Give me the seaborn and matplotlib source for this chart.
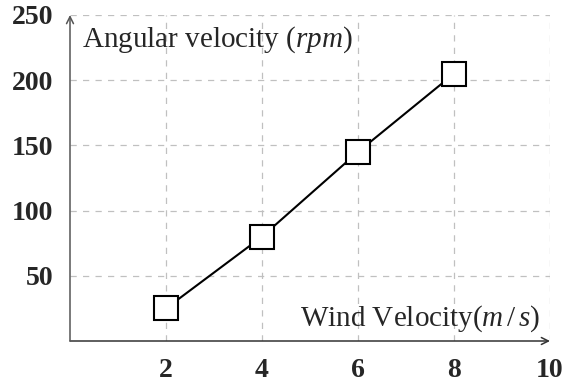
import matplotlib
matplotlib.use("Agg")
import matplotlib.pyplot as plt
import seaborn as sns
import pandas as pd

# data
wind = [2, 4, 6, 8]
rpm = [25, 80, 145, 205]
xticks = [2, 4, 6, 8, 10]
yticks = [50, 100, 150, 200, 250]

df = pd.DataFrame({"wind": wind, "rpm": rpm})

sns.set_style("white")
plt.rcParams["font.family"] = ["Liberation Serif", "DejaVu Serif"]
plt.rcParams["mathtext.fontset"] = "custom"
plt.rcParams["mathtext.it"] = "Liberation Serif:italic"
plt.rcParams["mathtext.rm"] = "Liberation Serif"

fig = plt.figure(figsize=(5.65, 3.86), dpi=100)
ax = fig.add_axes([70 / 565, 1 - 341 / 386, 480 / 565, 326 / 386])

sns.lineplot(data=df, x="wind", y="rpm", ax=ax, color="black", lw=1.5,
             marker="s", markersize=17, markerfacecolor="white",
             markeredgecolor="black", markeredgewidth=1.5, zorder=5)

ax.set_xlim(0, 10)
ax.set_ylim(0, 250)
ax.set_xticks(xticks)
ax.set_yticks(yticks)
ax.set_xticklabels([str(t) for t in xticks], fontweight="bold", fontsize=20)
ax.set_yticklabels([str(t) for t in yticks], fontweight="bold", fontsize=20)
ax.tick_params(direction="inout", length=6, width=0.8, color="#555555", pad=9)
ax.set_xlabel("")
ax.set_ylabel("")

ax.grid(True, color="#c0c0c0", linestyle=(0, (5, 5)), lw=0.9)
for s in ax.spines.values():
    s.set_visible(False)

# axis lines with arrows
ax.annotate("", xy=(10, 0), xytext=(0, 0), annotation_clip=False,
            arrowprops=dict(arrowstyle="->,head_length=0.5,head_width=0.25",
                            color="#333333", lw=1.1, shrinkA=0, shrinkB=0))
ax.annotate("", xy=(0, 250), xytext=(0, 0), annotation_clip=False,
            arrowprops=dict(arrowstyle="->,head_length=0.5,head_width=0.25",
                            color="#555555", lw=1.1, shrinkA=0, shrinkB=0))

ax.text(0.25, 231, r"Angular velocity ($rpm$)", fontsize=21, ha="left", va="center")
ax.text(9.8, 17, r"Wind Velocity($m\,/\,s$)", fontsize=21, ha="right", va="center")

fig.savefig("out.png", dpi=100)
